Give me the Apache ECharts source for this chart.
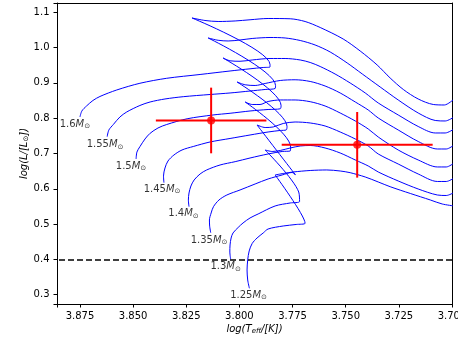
<!DOCTYPE html>
<html>
<head>
<meta charset="utf-8">
<title>HR tracks</title>
<script src="https://cdn.jsdelivr.net/npm/echarts@6.0.0/dist/echarts.min.js"></script>
<style>
  html, body { margin: 0; padding: 0; background: #fff; }
  #chart { width: 458px; height: 343px; }
</style>
</head>
<body>
<div id="chart"></div>
<script>
// evolutionary tracks, [log Teff, log L]
// ms = main sequence up to the hook vertex, sg = from the vertex to the right edge
var ms160 = [[3.8750,0.8034],[3.8741,0.8204],[3.8719,0.8346],[3.8689,0.8501],[3.8656,0.8615],[3.8577,0.8799],[3.8468,0.8989],[3.8342,0.9130],[3.8185,0.9238],[3.8044,0.9337],[3.7950,0.9399],[3.7888,0.9436],[3.7856,0.9450],[3.7856,0.9521],[3.8223,1.0839]];
var sg160 = [[3.8223,1.0839],[3.8162,1.0768],[3.8100,1.0739],[3.8020,1.0754],[3.7950,1.0788],[3.7865,1.0824],[3.7761,1.0816],[3.7691,1.0739],[3.7620,1.0569],[3.7512,1.0244],[3.7432,0.9904],[3.7352,0.9507],[3.7291,0.9139],[3.7229,0.8813],[3.7159,0.8544],[3.7088,0.8388],[3.7036,0.8374],[3.6990,0.8544]];

var ms155 = [[3.8622,0.7476],[3.8614,0.7666],[3.8593,0.7821],[3.8562,0.8034],[3.8530,0.8176],[3.8468,0.8360],[3.8420,0.8459],[3.8350,0.8544],[3.8264,0.8609],[3.8138,0.8671],[3.8044,0.8714],[3.7950,0.8770],[3.7879,0.8813],[3.7832,0.8841],[3.7830,0.8926],[3.8147,1.0272]];
var sg155 = [[3.8147,1.0272],[3.8100,1.0207],[3.8053,1.0187],[3.7997,1.0215],[3.7940,1.0258],[3.7856,1.0286],[3.7785,1.0272],[3.7714,1.0201],[3.7644,1.0074],[3.7573,0.9875],[3.7493,0.9564],[3.7422,0.9252],[3.7338,0.8884],[3.7253,0.8516],[3.7159,0.8147],[3.7079,0.7935],[3.7032,0.7921],[3.6990,0.8034]];

var ms150 = [[3.8486,0.6844],[3.8482,0.7042],[3.8468,0.7193],[3.8444,0.7411],[3.8420,0.7572],[3.8383,0.7722],[3.8342,0.7821],[3.8246,0.7983],[3.8124,0.8091],[3.8044,0.8139],[3.7950,0.8204],[3.7865,0.8246],[3.7808,0.8266],[3.7804,0.8360],[3.8077,0.9705]];
var sg150 = [[3.8077,0.9705],[3.8044,0.9626],[3.7997,0.9612],[3.7940,0.9649],[3.7856,0.9691],[3.7785,0.9691],[3.7714,0.9649],[3.7667,0.9578],[3.7620,0.9464],[3.7550,0.9252],[3.7479,0.8997],[3.7408,0.8714],[3.7347,0.8431],[3.7253,0.8091],[3.7159,0.7765],[3.7079,0.7581],[3.7032,0.7581],[3.6990,0.7694]];

var ms145 = [[3.8355,0.6173],[3.8357,0.6363],[3.8350,0.6589],[3.8336,0.6787],[3.8308,0.6957],[3.8270,0.7099],[3.8217,0.7198],[3.8138,0.7326],[3.8044,0.7425],[3.7950,0.7524],[3.7865,0.7609],[3.7808,0.7652],[3.7780,0.7666],[3.7776,0.7765],[3.8011,0.9025]];
var sg145 = [[3.8011,0.9025],[3.7973,0.8946],[3.7926,0.8926],[3.7879,0.8983],[3.7808,0.9068],[3.7738,0.9088],[3.7667,0.9040],[3.7597,0.8912],[3.7526,0.8714],[3.7455,0.8459],[3.7394,0.8232],[3.7347,0.8006],[3.7253,0.7666],[3.7159,0.7340],[3.7069,0.7127],[3.7027,0.7127],[3.6990,0.7241]];

var ms140 = [[3.8237,0.5493],[3.8240,0.5683],[3.8237,0.5881],[3.8228,0.6079],[3.8213,0.6249],[3.8185,0.6419],[3.8154,0.6533],[3.8091,0.6674],[3.8020,0.6768],[3.7950,0.6872],[3.7865,0.6986],[3.7799,0.7057],[3.7761,0.7071],[3.7759,0.7184],[3.7973,0.8459]];
var sg140 = [[3.7973,0.8459],[3.7940,0.8388],[3.7903,0.8388],[3.7865,0.8473],[3.7808,0.8516],[3.7738,0.8516],[3.7667,0.8467],[3.7597,0.8346],[3.7526,0.8147],[3.7455,0.7921],[3.7394,0.7694],[3.7347,0.7467],[3.7253,0.7099],[3.7159,0.6816],[3.7069,0.6618],[3.7027,0.6618],[3.6990,0.6731]];

var ms135 = [[3.8135,0.4756],[3.8140,0.4946],[3.8141,0.5116],[3.8133,0.5314],[3.8122,0.5493],[3.8096,0.5683],[3.8059,0.5824],[3.7997,0.5966],[3.7926,0.6136],[3.7865,0.6278],[3.7799,0.6391],[3.7752,0.6462],[3.7736,0.6391],[3.7917,0.7807]];
var sg135 = [[3.7917,0.7807],[3.7879,0.7736],[3.7841,0.7751],[3.7794,0.7850],[3.7738,0.7892],[3.7667,0.7864],[3.7597,0.7779],[3.7526,0.7609],[3.7455,0.7411],[3.7394,0.7212],[3.7347,0.6986],[3.7253,0.6702],[3.7159,0.6419],[3.7069,0.6207],[3.7027,0.6207],[3.6990,0.6306]];

var ms130 = [[3.8041,0.4003],[3.8045,0.4209],[3.8044,0.4408],[3.8039,0.4606],[3.8030,0.4748],[3.8006,0.4904],[3.7983,0.5031],[3.7950,0.5173],[3.7912,0.5286],[3.7832,0.5513],[3.7761,0.5598],[3.7717,0.5640],[3.7721,0.5909],[3.7879,0.7099]];
var sg130 = [[3.7879,0.7099],[3.7846,0.7057],[3.7808,0.7085],[3.7761,0.7156],[3.7714,0.7212],[3.7667,0.7227],[3.7597,0.7156],[3.7526,0.7014],[3.7455,0.6816],[3.7394,0.6646],[3.7347,0.6476],[3.7253,0.6221],[3.7159,0.5994],[3.7069,0.5824],[3.7027,0.5810],[3.6990,0.5895]];

var ms125 = [[3.7953,0.3181],[3.7961,0.3416],[3.7964,0.3700],[3.7961,0.3983],[3.7954,0.4238],[3.7940,0.4450],[3.7917,0.4606],[3.7888,0.4748],[3.7865,0.4861],[3.7794,0.4946],[3.7733,0.4989],[3.7691,0.5023],[3.7832,0.6391]];
var sg125 = [[3.7832,0.6391],[3.7794,0.6433],[3.7747,0.6476],[3.7667,0.6518],[3.7589,0.6533],[3.7526,0.6504],[3.7479,0.6456],[3.7408,0.6334],[3.7347,0.6193],[3.7291,0.6059],[3.7196,0.5867],[3.7102,0.5683],[3.7046,0.5569],[3.6990,0.5513]];

var trackParts = [ms160, sg160, ms155, sg155, ms150, sg150, ms145, sg145,
                  ms140, sg140, ms135, sg135, ms130, sg130, ms125, sg125];

// mass labels and where they sit
var massNames = ['1.6', '1.55', '1.5', '1.45', '1.4', '1.35', '1.3', '1.25'];
var labelTeff = [3.8774, 3.8632, 3.8510, 3.8364, 3.8263, 3.8143, 3.8065, 3.7957];
var labelLum  = [0.7836, 0.7255, 0.6646, 0.5994, 0.5306, 0.4549, 0.3790, 0.2991];

// observed stars with errors
var obsTeff = [3.8133, 3.7446];
var obsLum  = [0.7935, 0.7246];
var teffErr = [0.026, 0.0355];
var lumErr  = [0.093, 0.093];

var limitLum = 0.4;

var font = 'DejaVu Sans';
var chart = echarts.init(document.getElementById('chart'));

var series = [];
for (var i = 0; i < trackParts.length; i++) {
    series.push({
        type: 'line',
        data: trackParts[i],
        symbol: 'none',
        smooth: 0.3,
        z: 2,
        lineStyle: {color: '#0000ff', width: 1}
    });
}

var labelData = [];
for (var j = 0; j < massNames.length; j++) {
    labelData.push({name: massNames[j], value: [labelTeff[j], labelLum[j]]});
}
series.push({
    type: 'scatter',
    data: labelData,
    symbolSize: 1,
    z: 3,
    itemStyle: {color: 'rgba(0,0,0,0)'},
    label: {
        show: true,
        position: 'inside',
        formatter: function (p) { return '{n|' + p.name + '}{m|M}{s|\u2299}'; },
        rich: {
            n: {fontFamily: font, fontSize: 10, color: '#000', lineHeight: 12},
            m: {fontFamily: font, fontSize: 10, fontStyle: 'italic', color: '#000', lineHeight: 12},
            s: {fontFamily: font, fontSize: 7, color: '#000', lineHeight: 7, verticalAlign: 'bottom'}
        }
    },
    markLine: {
        silent: true,
        symbol: 'none',
        label: {show: false},
        lineStyle: {color: '#000', width: 1.5, type: [6, 3]},
        data: [{yAxis: limitLum}]
    }
});

for (var k = 0; k < obsTeff.length; k++) {
    series.push({
        type: 'line', symbol: 'none', z: 5,
        lineStyle: {color: '#ff0000', width: 2},
        data: [[obsTeff[k] + teffErr[k], obsLum[k]], [obsTeff[k] - teffErr[k], obsLum[k]]]
    });
    series.push({
        type: 'line', symbol: 'none', z: 5,
        lineStyle: {color: '#ff0000', width: 2},
        data: [[obsTeff[k], obsLum[k] - lumErr[k]], [obsTeff[k], obsLum[k] + lumErr[k]]]
    });
}
var obsData = [];
for (var m = 0; m < obsTeff.length; m++) obsData.push([obsTeff[m], obsLum[m]]);
series.push({
    type: 'scatter', data: obsData, symbol: 'circle', symbolSize: 8, z: 6,
    itemStyle: {color: '#ff0000'}
});

function isStep(v, step) {
    var r = v / step;
    return Math.abs(r - Math.round(r)) < 1e-6;
}

var nameRich = {
    a: {fontFamily: font, fontSize: 10, fontStyle: 'italic', color: '#000', lineHeight: 12},
    b: {fontFamily: font, fontSize: 7, fontStyle: 'italic', color: '#000', lineHeight: 7, verticalAlign: 'bottom'}
};

var option = {
    animation: false,
    backgroundColor: '#fff',
    grid: {left: 57, right: 6, top: 3, bottom: 39, containLabel: false, outerBoundsMode: 'none'},
    xAxis: [{
        type: 'value',
        inverse: true,
        min: 3.700,
        max: 3.8858,
        interval: 0.025,
        name: '{a|log(T}{b|eff}{a|/[K])}',
        nameLocation: 'middle',
        nameGap: 19,
        nameMoveOverlap: false,
        nameTextStyle: {rich: nameRich},
        axisLine: {show: true, onZero: false, lineStyle: {color: '#000', width: 1}},
        axisTick: {show: true, length: 3.5, lineStyle: {color: '#000', width: 1}},
        axisLabel: {
            margin: 7.5, fontSize: 10, fontFamily: font, color: '#000',
            formatter: function (v) { return isStep(v, 0.025) ? v.toFixed(3) : ''; }
        },
        splitLine: {show: false}
    }, {
        type: 'value', position: 'top', inverse: true, min: 3.700, max: 3.8858,
        axisLine: {show: true, onZero: false, lineStyle: {color: '#000', width: 1}},
        axisTick: {show: false}, axisLabel: {show: false}, splitLine: {show: false}
    }],
    yAxis: [{
        type: 'value',
        min: 0.2736,
        max: 1.1263,
        minInterval: 0.1,
        maxInterval: 0.1,
        name: '{a|log(L/[L}{b|\u2299}{a|])}',
        nameLocation: 'middle',
        nameRotate: 90,
        nameGap: 27,
        nameMoveOverlap: false,
        nameTextStyle: {rich: nameRich},
        axisLine: {show: true, onZero: false, lineStyle: {color: '#000', width: 1}},
        axisTick: {show: true, length: 3.5, lineStyle: {color: '#000', width: 1}},
        axisLabel: {
            margin: 7.5, fontSize: 10, fontFamily: font, color: '#000',
            formatter: function (v) { return isStep(v, 0.1) ? v.toFixed(1) : ''; }
        },
        splitLine: {show: false}
    }, {
        type: 'value', position: 'right', min: 0.2736, max: 1.1263,
        axisLine: {show: true, onZero: false, lineStyle: {color: '#000', width: 1}},
        axisTick: {show: false}, axisLabel: {show: false}, splitLine: {show: false}
    }],
    series: series
};
chart.setOption(option);
</script>
</body>
</html>
